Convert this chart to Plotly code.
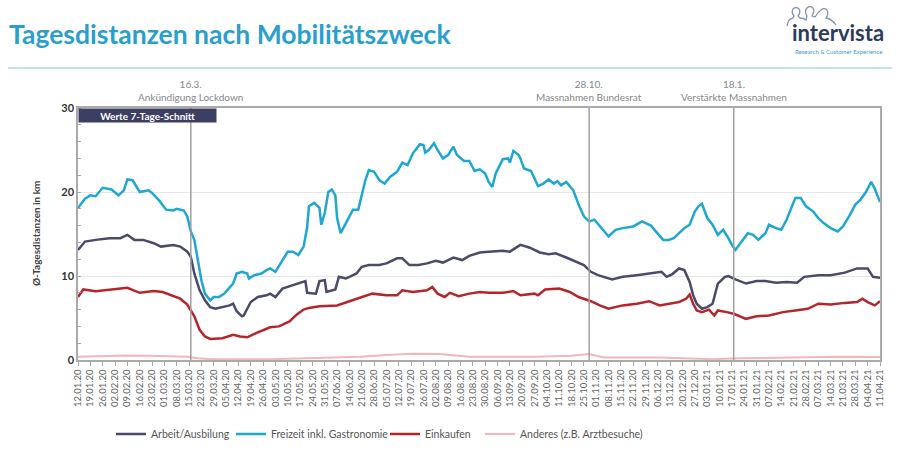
import pandas as pd
import plotly.graph_objects as go

START = "2020-01-12"
END = "2021-04-11"

# day offsets from START and 7-day mean daily distance (km)
FREIZEIT_DAY = [0, 4, 7, 10, 14, 19, 23, 26, 28, 31, 35, 40, 42, 46, 50, 54, 56, 60, 62, 64, 66, 68, 70, 72, 75, 77, 80, 83, 86, 88,
                90, 93, 96, 97, 100, 104, 107, 109, 112, 115, 119, 122, 125, 128, 130, 131, 134, 137, 138, 140, 142, 144, 146, 147, 149,
                152, 156, 159, 161, 163, 165, 168, 171, 174, 177, 181, 184, 187, 190, 194, 196, 197, 199, 202, 204, 207, 210, 213, 215,
                219, 222, 225, 228, 231, 233, 235, 237, 241, 244, 245, 247, 250, 251, 253, 257, 261, 264, 267, 270, 272, 274, 277, 281,
                284, 287, 290, 293, 297, 301, 305, 309, 315, 320, 325, 329, 332, 335, 338, 341, 344, 347, 350, 352, 354, 357, 360, 363,
                366, 369, 371, 373, 376, 380, 383, 386, 390, 392, 396, 399, 402, 404, 407, 410, 413, 417, 420, 423, 427, 431, 434, 438,
                441, 444, 447, 450, 452, 455]
FREIZEIT_KM = [18.1, 19.2, 19.6, 19.5, 20.5, 20.3, 19.6, 20.2, 21.5, 21.4, 20.0, 20.2, 19.9, 19.0, 17.9, 17.8, 18.0, 17.8, 17.1, 15.3,
               14.3, 11.9, 9.5, 7.9, 7.1, 7.5, 7.5, 7.9, 8.7, 9.1, 10.3, 10.5, 10.3, 9.7, 10.1, 10.3, 10.7, 10.9, 10.5, 11.5, 12.9,
               12.9, 12.5, 13.5, 15.8, 18.3, 18.7, 18.1, 16.1, 17.5, 20.0, 20.3, 19.6, 16.9, 15.1, 16.3, 17.9, 17.9, 19.5, 21.4, 22.6,
               22.4, 21.4, 21.0, 21.8, 22.4, 23.5, 23.2, 24.6, 25.7, 25.6, 24.7, 25.0, 25.8, 25.0, 24.0, 24.4, 25.4, 24.4, 23.7, 23.7,
               22.5, 22.7, 22.2, 21.2, 20.6, 22.2, 23.9, 24.0, 23.5, 24.9, 24.4, 24.0, 22.8, 22.5, 20.7, 21.0, 21.5, 21.0, 21.3, 20.8,
               21.2, 20.2, 18.5, 17.1, 16.5, 16.7, 15.7, 14.7, 15.5, 15.7, 15.9, 16.5, 16.0, 15.1, 14.3, 14.3, 14.5, 15.1, 15.7, 16.1,
               17.7, 18.3, 18.6, 16.9, 16.1, 14.9, 15.5, 14.5, 13.7, 13.1, 13.9, 15.1, 14.9, 14.3, 15.1, 16.1, 15.7, 15.5, 16.7, 17.7,
               19.3, 19.3, 18.3, 17.7, 16.9, 16.3, 15.7, 15.3, 15.9, 17.3, 18.5, 19.1, 20.0, 21.2, 20.4, 18.8]

ARBEIT_DAY = [0, 4, 10, 18, 24, 28, 32, 37, 43, 47, 54, 58, 62, 64, 66, 69, 72, 75, 78, 82, 86, 88, 90, 93, 94, 96, 98, 102, 107, 109,
              112, 116, 122, 128, 129, 130, 135, 137, 140, 141, 146, 148, 152, 158, 161, 165, 171, 175, 181, 184, 188, 193, 198, 203,
              207, 213, 218, 222, 228, 233, 241, 245, 251, 256, 262, 267, 271, 277, 283, 287, 291, 295, 303, 309, 317, 324, 331, 334,
              337, 341, 344, 347, 349, 351, 354, 357, 360, 363, 367, 369, 373, 379, 385, 390, 396, 402, 408, 412, 420, 427, 435, 442,
              448, 451, 455]
ARBEIT_KM = [13.1, 14.1, 14.3, 14.5, 14.5, 14.9, 14.3, 14.3, 13.9, 13.5, 13.7, 13.5, 12.9, 12.3, 10.3, 8.3, 7.1, 6.3, 6.1, 6.3, 6.5,
             6.7, 5.8, 5.2, 5.3, 6.1, 6.9, 7.5, 7.7, 7.9, 7.5, 8.5, 8.9, 9.3, 9.4, 8.0, 7.9, 9.4, 9.5, 8.1, 8.4, 9.9, 9.7, 10.3,
             11.1, 11.3, 11.3, 11.5, 12.1, 12.1, 11.3, 11.3, 11.5, 11.8, 11.6, 12.2, 11.9, 12.4, 12.8, 12.9, 13.0, 12.9, 13.7, 13.4,
             12.8, 12.6, 12.7, 12.2, 11.7, 11.3, 10.5, 10.1, 9.6, 9.9, 10.1, 10.3, 10.5, 9.9, 10.2, 10.9, 10.7, 9.3, 7.7, 6.7, 6.1,
             6.3, 6.7, 9.1, 9.9, 10.0, 9.6, 9.1, 9.4, 9.4, 9.2, 9.3, 9.2, 9.9, 10.1, 10.1, 10.4, 10.9, 10.9, 9.9, 9.8]

EINKAUFEN_DAY = [0, 3, 10, 18, 28, 35, 43, 48, 52, 58, 62, 66, 69, 72, 75, 82, 88, 92, 96, 101, 109, 114, 120, 124, 128, 131, 137,
                 147, 154, 162, 167, 175, 181, 184, 190, 198, 201, 204, 208, 211, 216, 222, 228, 233, 241, 247, 251, 259, 261, 265,
                 273, 279, 284, 291, 296, 301, 309, 317, 324, 330, 335, 341, 345, 347, 349, 351, 354, 358, 361, 363, 368, 372, 379,
                 385, 392, 400, 407, 414, 420, 427, 435, 442, 445, 448, 452, 455]
EINKAUFEN_KM = [7.5, 8.4, 8.2, 8.4, 8.6, 8.0, 8.2, 8.1, 7.8, 7.3, 6.6, 5.2, 3.6, 2.8, 2.5, 2.6, 3.0, 2.8, 2.7, 3.2, 3.9, 4.0, 4.6,
                5.4, 6.0, 6.2, 6.4, 6.5, 7.0, 7.6, 7.9, 7.7, 7.7, 8.3, 8.1, 8.3, 8.7, 7.9, 7.5, 8.0, 7.6, 7.9, 8.1, 8.0, 8.0, 8.2,
                7.7, 7.9, 7.7, 8.4, 8.5, 8.1, 7.5, 7.0, 6.5, 6.1, 6.5, 6.7, 7.0, 6.5, 6.7, 6.9, 7.3, 7.8, 6.7, 5.9, 5.7, 6.0, 5.3,
                5.9, 5.7, 5.5, 4.9, 5.2, 5.3, 5.7, 5.9, 6.1, 6.7, 6.6, 6.8, 6.9, 7.3, 6.9, 6.5, 7.0]

ANDERES_DAY = [0, 10, 28, 40, 55, 62, 68, 75, 110, 130, 160, 175, 190, 205, 215, 222, 260, 280, 290, 298, 330, 345, 360, 375, 400,
               430, 455]
ANDERES_KM = [0.4, 0.45, 0.55, 0.5, 0.45, 0.4, 0.2, 0.1, 0.1, 0.2, 0.4, 0.6, 0.75, 0.7, 0.5, 0.4, 0.4, 0.5, 0.7, 0.3, 0.3, 0.2,
              0.1, 0.2, 0.3, 0.4, 0.35]

SERIES_NAMES = ["Arbeit/Ausbilung", "Freizeit inkl. Gastronomie", "Einkaufen", "Anderes (z.B. Arztbesuche)"]
SERIES_DAYS = [ARBEIT_DAY, FREIZEIT_DAY, EINKAUFEN_DAY, ANDERES_DAY]
SERIES_KM = [ARBEIT_KM, FREIZEIT_KM, EINKAUFEN_KM, ANDERES_KM]
SERIES_COLORS = ["#4a4a6a", "#1fa6d1", "#b3262c", "#f2b6bb"]
SERIES_WIDTHS = [2.5, 2.5, 2.5, 2]
LEGEND_TEXT_X = [151, 271, 425, 520]

EVENT_DATES = ["2020-03-16", "2020-10-28", "2021-01-18"]
EVENT_LABELS = ["16.3.<br>Ankündigung Lockdown", "28.10.<br>Massnahmen Bundesrat", "18.1.<br>Verstärkte Massnahmen"]

TITLE = "Tagesdistanzen nach Mobilitätszweck"
Y_TITLE = "Ø-Tagesdistanzen in km"
BOX_TEXT = "Werte 7-Tage-Schnitt"

W, H = 900, 460
ML, MR, MT, MB = 78, 20, 108, 100
PW, PH = W - ML - MR, H - MT - MB
FONT = "Lato"


def pxx(x):
    return (x - ML) / PW


def pxy(y):
    return (H - MB - y) / PH


fig = go.Figure()
start = pd.Timestamp(START)
for i, (name, days, km, col, wd) in enumerate(zip(SERIES_NAMES, SERIES_DAYS, SERIES_KM, SERIES_COLORS, SERIES_WIDTHS)):
    dates = start + pd.to_timedelta(days, unit="D")
    lg = "legend" if i == 0 else f"legend{i + 1}"
    fig.add_trace(go.Scatter(x=dates, y=km, mode="lines", name=name, legend=lg, showlegend=True,
                             line=dict(color=col, width=wd), hoverinfo="skip"))

legend_common = dict(orientation="h", yanchor="middle", y=pxy(434), xanchor="left",
                     font=dict(family=FONT, size=10.5, color="#555"), bgcolor="rgba(0,0,0,0)",
                     borderwidth=0, itemwidth=30)
legends = {}
for i, tx in enumerate(LEGEND_TEXT_X):
    key = "legend" if i == 0 else f"legend{i + 1}"
    legends[key] = dict(legend_common, x=pxx(tx - 40))

shapes = []
for d in EVENT_DATES:
    shapes.append(dict(type="line", xref="x", yref="paper", x0=d, x1=d, y0=0, y1=1,
                       line=dict(color="#a0a0a0", width=1.5), layer="above"))
# title underline
shapes.append(dict(type="line", xref="paper", yref="paper", x0=pxx(8), x1=pxx(892), y0=pxy(68), y1=pxy(68),
                   line=dict(color="#a9dbe8", width=1.5)))

# logo silhouettes (decorative outline)
pts = "M787,26 Q788,19 793,18 L794,16 Q791,12 793,9 Q796,6 799,9 Q801,12 798,16 L800,18 Q804,18 806,20 " \
      "L807,16 Q804,11 807,8 Q810,5 813,8 Q815,11 812,16 L815,17 Q818,12 821,10 Q824,7 827,10 Q829,14 826,18 " \
      "Q832,19 836,25"
tokens = pts.replace(",", " ").split()
out = []
nums = []
for t in tokens:
    if t[0].isalpha():
        cmd = t[0]
        rest = t[1:]
        out.append(cmd)
        if rest:
            nums.append(float(rest))
    else:
        nums.append(float(t))
    if len(nums) == 2:
        out.append(f"{pxx(nums[0]):.5f},{pxy(nums[1]):.5f}")
        nums = []
path = " ".join(out)
shapes.append(dict(type="path", xref="paper", yref="paper", path=path, line=dict(color="#8795b0", width=1.3)))

annotations = [
    dict(text=f"<b>{TITLE}</b>", x=pxx(7), y=pxy(34), xref="paper", yref="paper", xanchor="left",
         yanchor="middle", showarrow=False, font=dict(family=FONT, size=26.5, color="#2a9fcc")),
    dict(text="<b>intervista</b>", x=pxx(838), y=pxy(33), xref="paper", yref="paper", xanchor="center",
         yanchor="middle", showarrow=False, font=dict(family=FONT, size=22, color="#2d3a5e")),
    dict(text="Research &amp; Customer Experience", x=pxx(838), y=pxy(52), xref="paper", yref="paper",
         xanchor="center", yanchor="middle", showarrow=False, font=dict(family=FONT, size=6, color="#3aa0d0")),
    dict(text=Y_TITLE, x=pxx(36), y=pxy(234), xref="paper", yref="paper", xanchor="center", yanchor="middle",
         textangle=-90, showarrow=False, font=dict(family=FONT, size=10, color="#444", weight="bold")),
    dict(text=f"<b>{BOX_TEXT}</b>", x=0, y=1, xref="paper", yref="paper", xanchor="left", yanchor="top",
         width=137, height=13, bgcolor="#3c3e62", borderpad=0, showarrow=False, align="center",
         font=dict(family=FONT, size=10, color="white")),
]
for d, lab in zip(EVENT_DATES, EVENT_LABELS):
    annotations.append(dict(text=lab, x=d, y=pxy(105), xref="x", yref="paper", xanchor="center", yanchor="bottom",
                            showarrow=False, font=dict(family=FONT, size=10, color="#888")))

fig.update_layout(
    width=W, height=H, margin=dict(l=ML, r=MR, t=MT, b=MB, autoexpand=False),
    paper_bgcolor="white", plot_bgcolor="white",
    font=dict(family=FONT), showlegend=True,
    shapes=shapes, annotations=annotations,
    **legends,
)
fig.update_xaxes(type="date", range=[START, END], tickmode="linear", tick0=START, dtick=7 * 86400000,
                 tickformat="%d.%m.%y", tickangle=-90, tickfont=dict(family=FONT, size=9.5, color="#666"),
                 ticks="outside", ticklen=4, tickcolor="#aaa", showline=True, linecolor="#aaa", linewidth=1.5,
                 mirror=True, showgrid=False, zeroline=False)
fig.update_yaxes(range=[0, 30], tickvals=[0, 10, 20, 30], showgrid=True, gridcolor="#e6e6e6", gridwidth=1,
                 tickfont=dict(family=FONT, size=11, color="#333", weight="bold"), ticks="", showline=True,
                 linecolor="#aaa", linewidth=1.5, mirror=True, zeroline=False,
                 minor=dict(dtick=2, ticks="inside", ticklen=3, tickcolor="#aaa", showgrid=False))

fig.write_html("out.html")
